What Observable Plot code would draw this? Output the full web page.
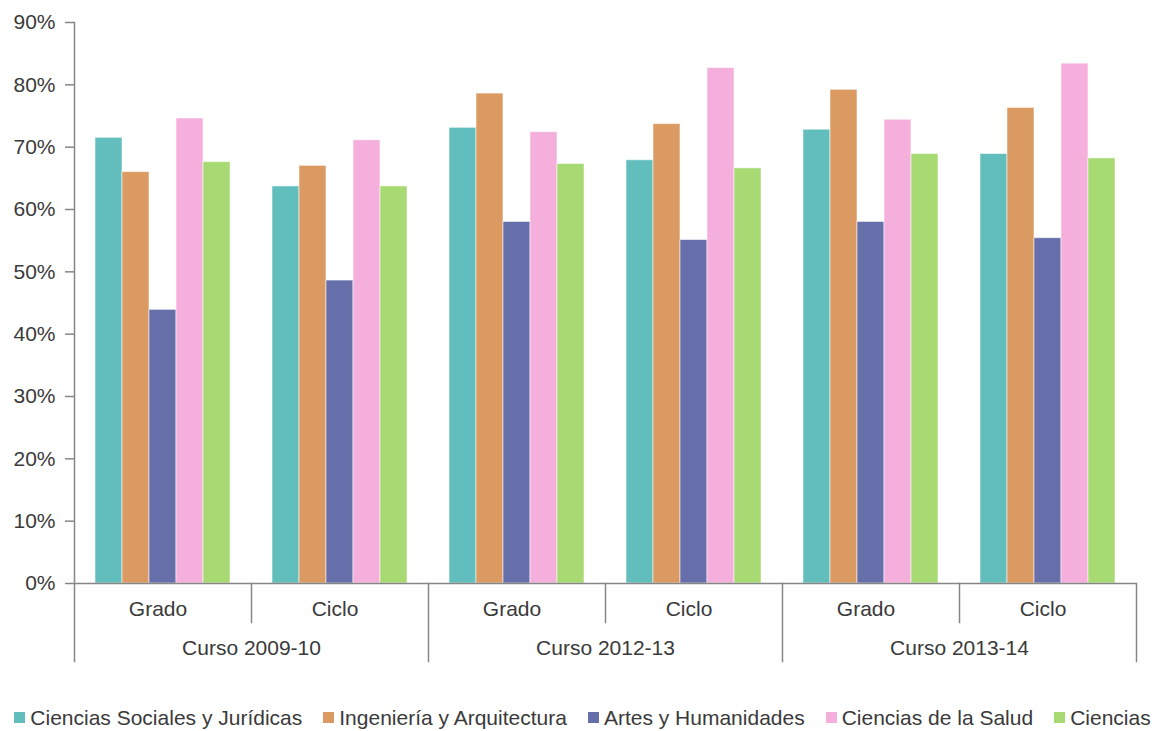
<!DOCTYPE html>
<html><head><meta charset="utf-8">
<script src="https://cdn.jsdelivr.net/npm/d3@7"></script>
<script src="https://cdn.jsdelivr.net/npm/@observablehq/plot@0.6"></script>
<style>
body{margin:0;background:#fff;font-family:"Liberation Sans",Arial,sans-serif;overflow:hidden;}
#legend{display:flex;justify-content:center;margin-top:11px;width:1165px;}
.lg-swatches{justify-content:center;flex-wrap:nowrap !important;margin:0 !important;width:max-content;white-space:nowrap;}
.lg-swatch{margin-right:21px !important;}
.lg-swatch:last-child{margin-right:0 !important;}
.lg-swatch > svg{margin-right:5px !important;}
</style></head><body><div id="chart"></div><div id="legend"></div>
<script>
const courses = ["Curso 2009-10", "Curso 2012-13", "Curso 2013-14"];
const levels = ["Grado", "Ciclo"];
const areas = ["Ciencias Sociales y Jurídicas", "Ingeniería y Arquitectura", "Artes y Humanidades", "Ciencias de la Salud", "Ciencias"];
const colors = ["#62BDBD", "#DB9A62", "#676FAA", "#F5AFDC", "#A7DA72"];
// values per subgroup: 2009-10 Grado, 2009-10 Ciclo, 2012-13 Grado, 2012-13 Ciclo, 2013-14 Grado, 2013-14 Ciclo
const socialesJuridicas = [71.5, 63.7, 73.1, 67.9, 72.8, 68.9];
const ingenieriaArquitectura = [66.0, 67.0, 78.6, 73.7, 79.2, 76.3];
const artesHumanidades = [43.9, 48.6, 58.0, 55.1, 58.0, 55.4];
const cienciasSalud = [74.6, 71.1, 72.4, 82.7, 74.4, 83.4];
const ciencias = [67.6, 63.7, 67.3, 66.6, 68.9, 68.2];
const yTicks = [0, 10, 20, 30, 40, 50, 60, 70, 80, 90];

const series = [socialesJuridicas, ingenieriaArquitectura, artesHumanidades, cienciasSalud, ciencias];
const groups = courses.flatMap(c => levels.map(l => ({course: c, level: l, key: c + "|" + l})));
const rows = areas.flatMap((a, j) => series[j].map((v, i) => ({area: a, key: groups[i].key, value: v})));

const W = 1165, H = 690, mT = 22, mB = 107, mL = 72, mR = 27;
const innerH = H - mT - mB;
const gray = "#868686", ink = "#3a3a3a";
const font = "'Liberation Sans', Arial, sans-serif";

const marks = [
  Plot.barY(rows, {fx: "key", x: "area", y: "value", fill: "area", stroke: "#ffffff", strokeOpacity: 0.55, strokeWidth: 1}),
  Plot.ruleY([0], {stroke: gray, strokeWidth: 1.5}),
  Plot.axisY({ticks: yTicks, tickSize: 9, tickPadding: 10, tickFormat: d => d + "%", stroke: gray, fill: ink, label: null, strokeWidth: 1.5}),
  Plot.frame({anchor: "left", fx: () => groups[0].key, insetBottom: -78, stroke: gray, strokeWidth: 1.5}),
  Plot.frame({anchor: "right", fx: () => groups[5].key, insetTop: innerH, insetBottom: -78, stroke: gray, strokeWidth: 1.5}),
  Plot.text(groups, {fx: "key", text: "level", frameAnchor: "bottom", dy: 32, dx: -5, fill: ink}),
  Plot.text(groups.filter(g => g.level === "Grado"), {fx: "key", text: "course", frameAnchor: "bottom-right", textAnchor: "middle", dy: 71, fill: ink})
];
groups.forEach((g, i) => {
  if (i === 0) return;
  marks.push(Plot.frame({anchor: "left", fx: () => g.key, insetTop: innerH, insetBottom: g.level === "Grado" ? -78 : -39, stroke: gray, strokeWidth: 1.5}));
});

const chart = Plot.plot({
  width: W, height: H, marginTop: mT, marginBottom: mB, marginLeft: mL, marginRight: mR,
  style: {fontFamily: font, fontSize: "21px", color: ink, background: "#fff"},
  fx: {domain: groups.map(g => g.key), padding: 0, axis: null, label: null},
  x: {domain: areas, paddingInner: 0, paddingOuter: 0.717, axis: null},
  y: {domain: [0, 90], axis: null},
  color: {domain: areas, range: colors},
  marks
});
document.getElementById("chart").appendChild(chart);

const legend = Plot.legend({
  color: {domain: areas, range: colors},
  legend: "swatches",
  swatchSize: 11,
  className: "lg",
  style: {fontFamily: font, fontSize: "21px", color: ink}
});
document.getElementById("legend").appendChild(legend);
</script>
</body></html>
